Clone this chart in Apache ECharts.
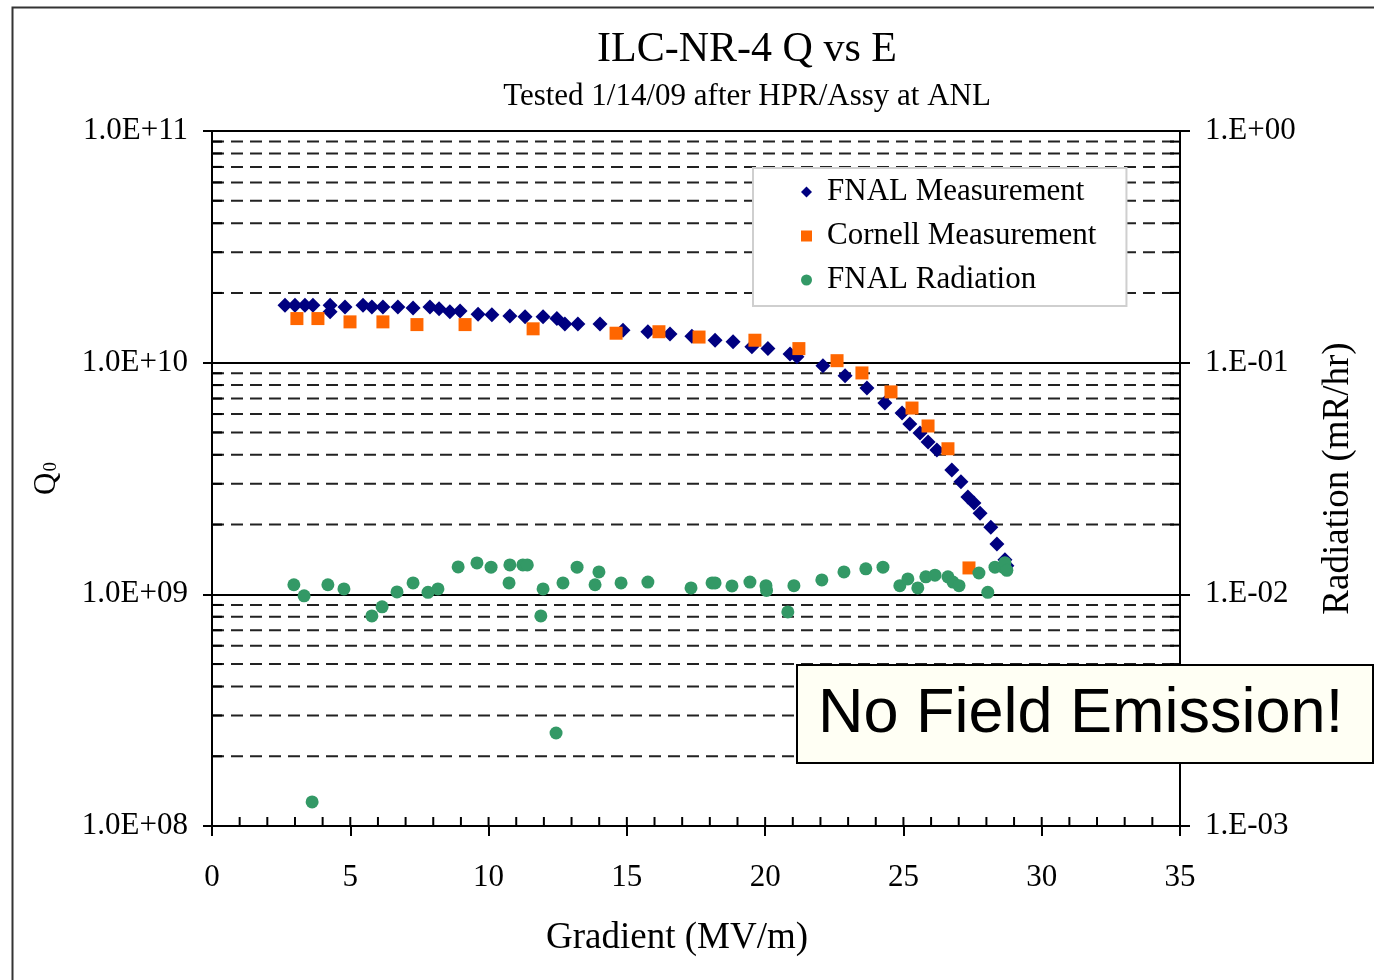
<!DOCTYPE html>
<html>
<head>
<meta charset="utf-8">
<title>ILC-NR-4 Q vs E</title>
<script src="https://cdn.jsdelivr.net/npm/echarts@6/dist/echarts.min.js"></script>
<style>
  html, body { margin: 0; padding: 0; background: #fff; }
  #chart { width: 1374px; height: 980px; }
</style>
</head>
<body>
<div id="chart"></div>
<script>
// FNAL vertical test: Q0 vs accelerating gradient
const fnalGradient = [2.64, 3.00, 3.36, 3.65, 4.27, 4.27, 4.81, 5.46, 5.78, 6.18,
  6.72, 7.27, 7.88, 8.21, 8.60, 8.97, 9.62, 10.12, 10.77, 11.32,
  11.97, 12.47, 12.76, 13.23, 14.03, 14.86, 15.76, 16.56, 17.35, 18.19,
  18.84, 19.52, 20.10, 20.90, 21.15, 22.09, 22.89, 23.68, 24.33, 24.95,
  25.23, 25.60, 25.89, 26.21, 26.75, 27.08, 27.33, 27.55, 27.77, 28.16,
  28.38, 28.67, 28.74];
const fnalQ0 = [1.77e10, 1.77e10, 1.77e10, 1.77e10, 1.77e10, 1.66e10, 1.74e10, 1.77e10, 1.74e10, 1.74e10,
  1.74e10, 1.72e10, 1.74e10, 1.71e10, 1.66e10, 1.67e10, 1.62e10, 1.61e10, 1.59e10, 1.58e10,
  1.58e10, 1.55e10, 1.47e10, 1.47e10, 1.47e10, 1.38e10, 1.36e10, 1.33e10, 1.30e10, 1.25e10,
  1.23e10, 1.17e10, 1.15e10, 1.09e10, 1.06e10, 9.70e9, 8.77e9, 7.78e9, 6.70e9, 6.07e9,
  5.44e9, 4.97e9, 4.55e9, 4.20e9, 3.44e9, 3.06e9, 2.63e9, 2.48e9, 2.24e9, 1.95e9,
  1.65e9, 1.41e9, 1.33e9];

// Cornell measurement of the same cavity
const cornellGradient = [3.07, 3.83, 4.99, 6.18, 7.41, 9.15, 11.61, 14.61, 16.16, 17.61,
  19.63, 21.22, 22.60, 23.50, 24.55, 25.31, 25.89, 26.61, 27.37];
const cornellQ0 = [1.55e10, 1.55e10, 1.50e10, 1.50e10, 1.46e10, 1.46e10, 1.40e10, 1.34e10, 1.36e10, 1.29e10,
  1.25e10, 1.15e10, 1.02e10, 9.03e9, 7.48e9, 6.37e9, 5.33e9, 4.25e9, 1.30e9];

// FNAL radiation monitor readings (mR/hr)
const radGradient = [2.96, 3.33, 3.62, 4.19, 4.77, 5.78, 6.15, 6.69, 7.27, 7.81,
  8.17, 8.90, 9.58, 10.09, 10.74, 10.77, 11.24, 11.40, 11.89, 11.97,
  12.44, 12.69, 13.20, 13.85, 13.99, 14.79, 15.76, 17.32, 18.08, 18.19,
  18.80, 19.45, 20.03, 20.05, 20.82, 21.04, 22.05, 22.85, 23.64, 24.26,
  24.87, 25.16, 25.52, 25.81, 26.14, 26.61, 26.79, 27.01, 27.73, 28.05,
  28.31, 28.60, 28.67, 28.74];
const radLevel = [0.0110, 0.00985, 0.00127, 0.0110, 0.01055, 0.00807, 0.00883, 0.01024, 0.0112, 0.0102,
  0.01055, 0.01313, 0.01367, 0.0131, 0.0112, 0.0134, 0.0134, 0.0134, 0.00807, 0.01055,
  0.00252, 0.0112, 0.0131, 0.0110, 0.0125, 0.0112, 0.0113, 0.01066, 0.0112, 0.0112,
  0.01087, 0.0113, 0.0109, 0.0104, 0.0084, 0.0109, 0.01154, 0.0125, 0.01288, 0.0131,
  0.0109, 0.01165, 0.01066, 0.0119, 0.0121, 0.0119, 0.0113, 0.0109, 0.01236, 0.0102,
  0.0131, 0.0131, 0.0137, 0.0127];

// Axis tick labels
const q0TickLabels = ['1.0E+08', '1.0E+09', '1.0E+10', '1.0E+11'];
const radTickLabels = ['1.E-03', '1.E-02', '1.E-01', '1.E+00'];
const gradientTickLabels = ['0', '5', '10', '15', '20', '25', '30', '35'];

const X_MIN = 0, X_MAX = 35;
const Q_MIN = 1e8, Q_MAX = 1e11;
const R_MIN = 1e-3, R_MAX = 1;

const SERIF = '"Liberation Serif", "Times New Roman", serif';
const INK = '#000';

// Intermediate log gridlines (2..9 in each decade) and unit ticks on the gradient axis
const minorLevels = [];
for (let e = 8; e < 11; e++) {
  for (let m = 2; m <= 9; m++) minorLevels.push([X_MIN, m * Math.pow(10, e)]);
}
const minorGradients = [];
for (let g = X_MIN + 1; g < X_MAX; g++) minorGradients.push([g, Q_MIN]);

function zip(xs, ys) { return xs.map((x, i) => [x, ys[i]]); }
function decadeIndex(v, lo) { return Math.round(Math.log10(v) - Math.log10(lo)); }

const chart = echarts.init(document.getElementById('chart'), null, { renderer: 'canvas' });

chart.setOption({
  backgroundColor: '#fff',
  animation: false,
  title: [{
    text: 'ILC-NR-4 Q vs E',
    left: 742,
    top: 24,
    textAlign: 'center',
    textStyle: { fontFamily: SERIF, fontSize: 42, fontWeight: 'normal', color: INK }
  }, {
    text: 'Tested 1/14/09 after HPR/Assy at ANL',
    left: 742,
    top: 76,
    textAlign: 'center',
    textStyle: { fontFamily: SERIF, fontSize: 31, fontWeight: 'normal', color: INK }
  }],
  legend: {
    orient: 'vertical',
    left: 753,
    top: 168,
    data: ['FNAL Measurement', 'Cornell Measurement', 'FNAL Radiation'],
    backgroundColor: '#fff',
    borderColor: '#cfcfcf',
    borderWidth: 2,
    padding: [8, 30, 10, 48],
    itemWidth: 11,
    itemHeight: 11,
    itemGap: 12,
    selectedMode: false,
    textStyle: { fontFamily: SERIF, fontSize: 31, color: INK, lineHeight: 32, padding: [0, 0, 0, 10] }
  },
  grid: { left: 212, right: 194, top: 131, bottom: 154, outerBoundsMode: 'none' },
  xAxis: {
    type: 'value',
    min: X_MIN,
    max: X_MAX,
    interval: 5,
    name: 'Gradient (MV/m)',
    nameLocation: 'middle',
    nameGap: 94,
    nameTextStyle: { fontFamily: SERIF, fontSize: 37, color: INK, padding: [0, 38, 0, 0] },
    axisLine: { show: true, onZero: false, lineStyle: { color: INK, width: 2 } },
    axisTick: { show: true, inside: false, length: 10, lineStyle: { color: INK, width: 2 } },
    axisLabel: {
      fontFamily: SERIF, fontSize: 31, color: INK, margin: 36,
      formatter: v => gradientTickLabels[Math.round(v / 5)]
    },
    splitLine: { show: false }
  },
  yAxis: [{
    type: 'log',
    logBase: 10,
    min: Q_MIN,
    max: Q_MAX,
    position: 'left',
    name: '{q|Q}{s|0}',
    nameLocation: 'middle',
    nameRotate: 90,
    nameGap: 150,
    nameTextStyle: {
      color: INK,
      rich: {
        q: { fontFamily: SERIF, fontSize: 31, color: INK },
        s: { fontFamily: SERIF, fontSize: 19, color: INK, padding: [10, 0, 0, 1] }
      }
    },
    axisLine: { show: true, onZero: false, lineStyle: { color: INK, width: 2 } },
    axisTick: { show: true, inside: false, length: 9, lineStyle: { color: INK, width: 2 } },
    axisLabel: {
      fontFamily: SERIF, fontSize: 31, color: INK, margin: 24,
      formatter: v => q0TickLabels[decadeIndex(v, Q_MIN)]
    },
    splitLine: { show: true, lineStyle: { color: INK, width: 2, type: 'solid' } }
  }, {
    type: 'log',
    logBase: 10,
    min: R_MIN,
    max: R_MAX,
    position: 'right',
    name: 'Radiation (mR/hr)',
    nameLocation: 'middle',
    nameRotate: 90,
    nameGap: 140,
    nameTextStyle: { fontFamily: SERIF, fontSize: 37, color: INK },
    axisLine: { show: true, onZero: false, lineStyle: { color: INK, width: 2 } },
    axisTick: { show: true, inside: false, length: 10, lineStyle: { color: INK, width: 2 } },
    axisLabel: {
      fontFamily: SERIF, fontSize: 31, color: INK, margin: 25,
      formatter: v => radTickLabels[decadeIndex(v, R_MIN)]
    },
    splitLine: { show: false }
  }],
  series: [{
    // dashed intermediate gridlines with inside ticks on both vertical axes
    type: 'custom',
    name: 'minor levels',
    silent: true,
    xAxisIndex: 0,
    yAxisIndex: 0,
    data: minorLevels,
    encode: { x: 0, y: 1 },
    z: 1,
    renderItem: (params, api) => {
      const v = api.value(1);
      const a = api.coord([X_MIN, v]);
      const b = api.coord([X_MAX, v]);
      return {
        type: 'group',
        children: [
          { type: 'line', shape: { x1: a[0], y1: a[1], x2: b[0], y2: b[1] },
            style: { stroke: '#222', lineWidth: 2, lineDash: [12, 7] } },
          { type: 'line', shape: { x1: a[0], y1: a[1], x2: a[0] + 10, y2: a[1] },
            style: { stroke: INK, lineWidth: 2 } },
          { type: 'line', shape: { x1: b[0] - 10, y1: b[1], x2: b[0], y2: b[1] },
            style: { stroke: INK, lineWidth: 2 } }
        ]
      };
    }
  }, {
    // unit ticks on the inside of the gradient axis
    type: 'custom',
    name: 'gradient ticks',
    silent: true,
    xAxisIndex: 0,
    yAxisIndex: 0,
    data: minorGradients,
    encode: { x: 0, y: 1 },
    z: 1,
    renderItem: (params, api) => {
      const p = api.coord([api.value(0), Q_MIN]);
      return { type: 'line', shape: { x1: p[0], y1: p[1], x2: p[0], y2: p[1] - 9 },
        style: { stroke: INK, lineWidth: 2 } };
    }
  }, {
    name: 'FNAL Measurement',
    type: 'scatter',
    yAxisIndex: 0,
    symbol: 'diamond',
    symbolSize: 15,
    itemStyle: { color: '#000080', opacity: 1 },
    data: zip(fnalGradient, fnalQ0),
    z: 3
  }, {
    name: 'Cornell Measurement',
    type: 'scatter',
    yAxisIndex: 0,
    symbol: 'rect',
    symbolSize: 13,
    itemStyle: { color: '#FF6600', opacity: 1 },
    data: zip(cornellGradient, cornellQ0),
    z: 4
  }, {
    name: 'FNAL Radiation',
    type: 'scatter',
    yAxisIndex: 1,
    symbol: 'circle',
    symbolSize: 13,
    itemStyle: { color: '#339966', opacity: 1 },
    data: zip(radGradient, radLevel),
    z: 5
  }],
  graphic: [{
    // outer frame of the figure
    type: 'rect',
    left: 10,
    top: 5,
    shape: { width: 1400, height: 1000 },
    style: { fill: 'none', stroke: '#333', lineWidth: 2 },
    silent: true,
    z: 0
  }, {
    type: 'rect',
    x: 797,
    y: 665,
    z: 100,
    zlevel: 1,
    shape: { x: 0, y: 0, width: 576, height: 98 },
    style: { fill: '#FFFFF4', stroke: INK, lineWidth: 2 }
  }, {
    type: 'text',
    x: 818,
    y: 715,
    z: 101,
    zlevel: 1,
    style: {
      text: 'No Field Emission!',
      font: '63px "Liberation Sans", Arial, sans-serif',
      fill: INK,
      verticalAlign: 'middle',
      align: 'left'
    }
  }]
});
</script>
</body>
</html>
